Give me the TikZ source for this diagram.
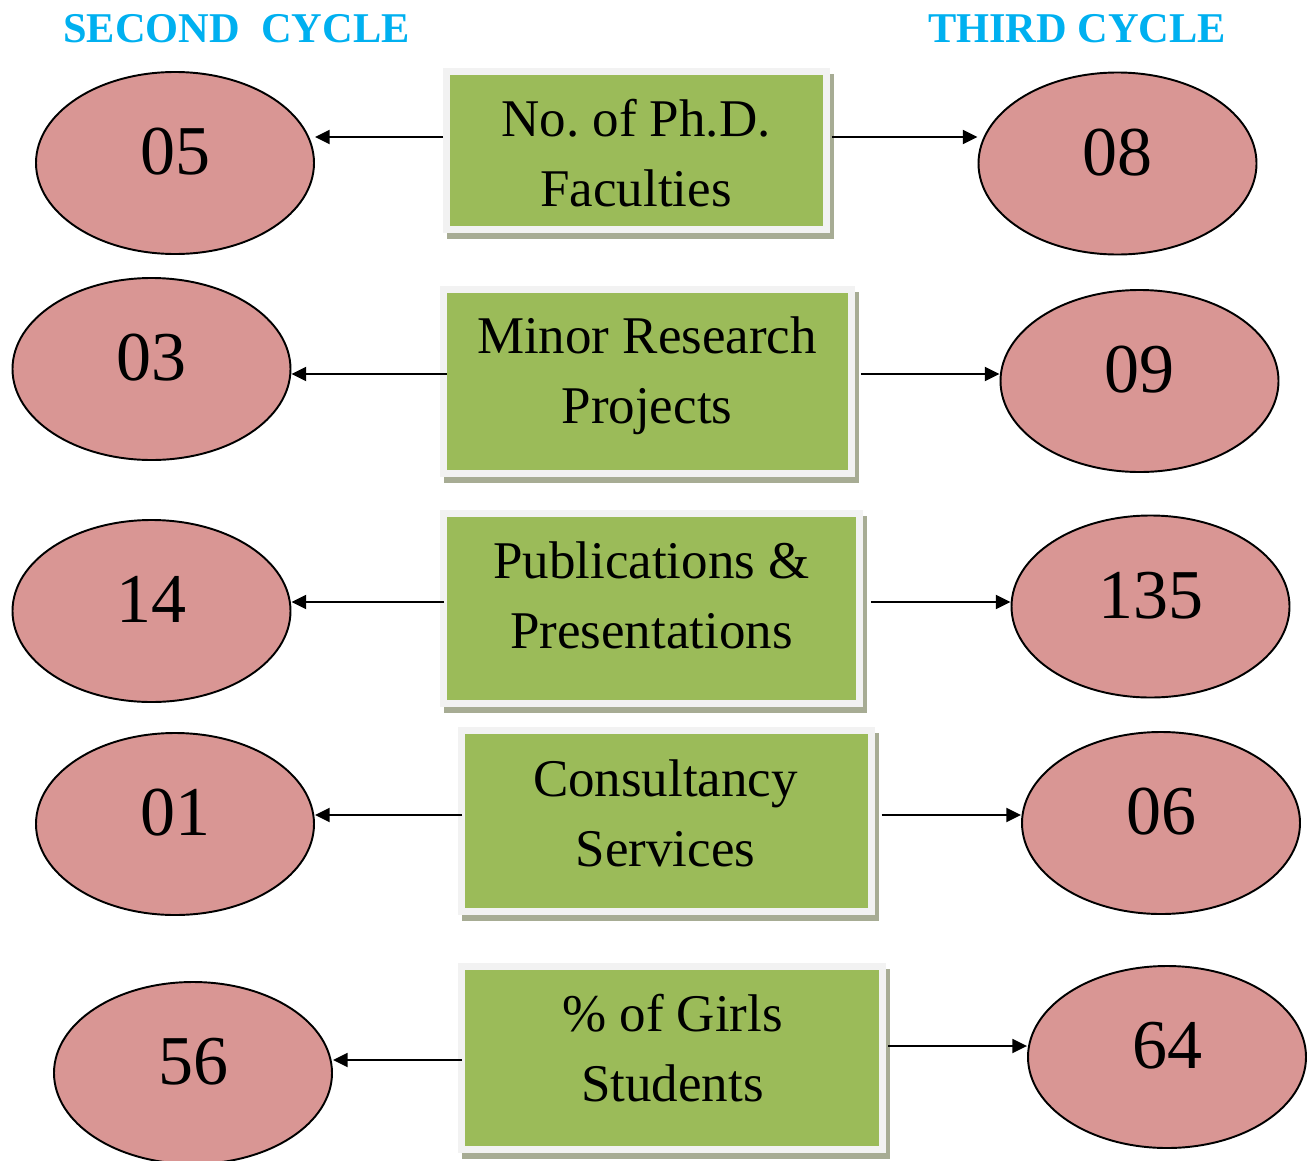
\documentclass[tikz,border=0pt]{standalone}
\usepackage{fontspec}
\setmainfont{Liberation Serif}
\usetikzlibrary{arrows.meta,shapes.geometric,backgrounds}
\definecolor{boxgreen}{HTML}{9BBB59}
\definecolor{framegray}{HTML}{F2F2F2}
\definecolor{shadowgray}{HTML}{A7AC94}
\definecolor{ovalred}{HTML}{D99694}
\definecolor{headblue}{HTML}{00B0F0}
\frenchspacing
\begin{document}
\begin{tikzpicture}[x=0.75pt,y=-0.75pt,
  gbox/.style={rectangle, fill=boxgreen, draw=framegray, line width=5.6pt, inner sep=0pt},
  btext/.style={anchor=north, inner sep=0pt, align=center, font=\fontsize{39.75pt}{52.5pt}\selectfont},
  oval/.style={ellipse, fill=ovalred, draw=black, line width=1.45pt, minimum width=208.5pt, minimum height=136.5pt, inner sep=0pt, font=\fontsize{52.5pt}{60pt}\selectfont, text height=36pt, text depth=18.75pt},
  head/.style={anchor=base, text=headblue, font=\fontsize{31.8pt}{36pt}\selectfont\bfseries, inner sep=0pt},
  arr/.style={line width=1.45pt, -{Triangle[length=11pt,width=10.5pt]}},
  shadowbox/.style={fill=shadowgray}]
\useasboundingbox (0,0) rectangle (1309,1160);

% headers
\node[head] (h2) at (236.5,42.5) {SECOND\ \ CYCLE};
\node[head] (h3) at (1077,42.5) {THIRD CYCLE};

% central boxes
\node[gbox, minimum width=284.63pt, minimum height=118.13pt] (b1) at (636.5,150.5) {};
\node[gbox, minimum width=305.63pt, minimum height=137.63pt] (b2) at (647.5,381.5) {};
\node[gbox, minimum width=311.63pt, minimum height=142.13pt] (b3) at (651.5,608.5) {};
\node[gbox, minimum width=307.13pt, minimum height=135.38pt] (b4) at (666.5,821) {};
\node[gbox, minimum width=315.38pt, minimum height=136.88pt] (b5) at (672,1058) {};

\begin{scope}[on background layer]
\foreach \bx in {b1,b2,b3,b4,b5}
  \fill[shadowbox] ([shift={(4,6)}]\bx.south west) rectangle ([shift={(4,6)}]\bx.north east);
\end{scope}

\node[btext] (t1) at (636,99) {No. of Ph.D.\\Faculties};
\node[btext] (t2) at (647,316) {Minor Research\\Projects};
\node[btext] (t3) at (651.5,541) {Publications \&\\Presentations};
\node[btext] (t4) at (665.5,759) {Consultancy\\Services};
\node[btext] (t5) at (672.5,994) {\% of Girls\\Students};

% ovals
\node[oval] (e1l) at (175,163) {05};
\node[oval] (e1r) at (1117.5,163.5) {08};
\node[oval] (e2l) at (151.5,369) {03};
\node[oval] (e2r) at (1139.5,381) {09};
\node[oval] (e3l) at (151.5,611) {14};
\node[oval] (e3r) at (1150.5,606.5) {135};
\node[oval] (e4l) at (175,824) {01};
\node[oval] (e4r) at (1161,823) {06};
\node[oval] (e5l) at (193,1073) {56};
\node[oval] (e5r) at (1167,1057) {64};

% arrow rows
\coordinate (r1) at (0,137);
\coordinate (r2) at (0,374);
\coordinate (r3) at (0,602);
\coordinate (r4) at (0,815);
\coordinate (r5l) at (0,1060);
\coordinate (r5r) at (0,1046);

\draw[arr] (b1.west |- r1) -- (e1l.east |- r1);
\draw[arr, shorten <=1.5pt] (b1.east |- r1) -- (e1r.west |- r1);
\draw[arr, shorten <=-5pt] (b2.west |- r2) -- (e2l.east |- r2);
\draw[arr, shorten <=4.5pt] (b2.east |- r2) -- (e2r.west |- r2);
\draw[arr, shorten <=-3pt] (b3.west |- r3) -- (e3l.east |- r3);
\draw[arr, shorten <=6pt] (b3.east |- r3) -- (e3r.west |- r3);
\draw[arr, shorten <=-3pt] (b4.west |- r4) -- (e4l.east |- r4);
\draw[arr, shorten <=5pt] (b4.east |- r4) -- (e4r.west |- r4);
\draw[arr, shorten <=-3pt] (b5.west |- r5l) -- (e5l.east |- r5l);
\draw[arr, shorten <=1.5pt] (b5.east |- r5r) -- (e5r.west |- r5r);
\end{tikzpicture}
\end{document}
